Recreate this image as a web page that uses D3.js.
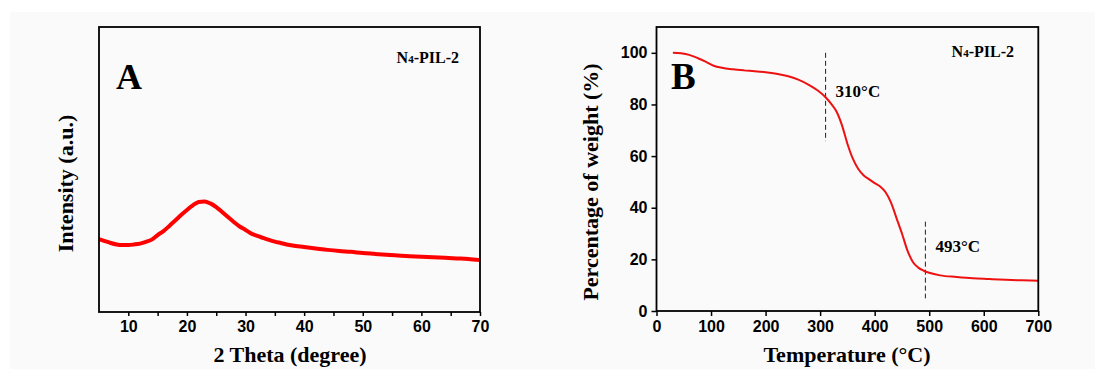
<!DOCTYPE html>
<html>
<head>
<meta charset="utf-8">
<script src="https://cdn.jsdelivr.net/npm/d3@7"></script>
<style>
  body { margin: 0; background: #fff; }
  svg { display: block; }
  .tick line { stroke: #000; stroke-width: 1.5; }
  .domain { display: none; }
  .serif { font-family: "Liberation Serif", "Times New Roman", serif; font-weight: bold; fill: #000; }
</style>
</head>
<body>
<div id="chart"></div>
<script>
// XRD pattern (panel A)
const xrdTheta = [5, 6, 7, 8, 9, 10, 11, 12, 13, 14, 15, 16, 17, 18, 19, 20, 21, 22, 23, 24, 25, 26, 27, 28, 29, 30,
  31, 32, 33, 34, 35, 36, 37, 38, 40, 42, 44, 46, 48, 50, 52, 54, 56, 58, 60, 62, 64, 66, 68, 70];
const xrdIntensity = [25.6, 24.9, 24.2, 23.7, 23.5, 23.5, 23.7, 24.0, 24.6, 25.4, 27.0, 28.4, 30.2, 32.1, 34.0, 35.8,
  37.4, 38.6, 38.8, 38.1, 36.8, 35.1, 33.3, 31.6, 30.0, 28.8, 27.5, 26.7, 26.0, 25.3, 24.7, 24.2, 23.7, 23.3,
  22.8, 22.3, 21.8, 21.4, 21.1, 20.7, 20.4, 20.1, 19.8, 19.6, 19.4, 19.2, 19.0, 18.8, 18.6, 18.2];
const xrdMajorTicks = [10, 20, 30, 40, 50, 60, 70];
const xrdMinorTicks = [15, 25, 35, 45, 55, 65];

// TGA curve (panel B)
const tgaTemp = [30, 45, 60, 75, 90, 105, 120, 140, 160, 180, 200, 220, 240, 260, 280, 295, 310, 320, 330, 340, 350,
  360, 370, 380, 390, 400, 410, 420, 430, 440, 450, 460, 470, 480, 490, 500, 520, 550, 580, 610, 640, 670, 700];
const tgaWeight = [100, 99.8, 99.2, 98.0, 96.6, 95.0, 94.2, 93.6, 93.2, 92.9, 92.5, 91.9, 91.0, 89.6, 87.5, 85.5,
  82.8, 80.3, 77.3, 72.0, 64.8, 59.0, 55.0, 52.5, 51.0, 49.5, 48.2, 46.0, 42.0, 36.0, 30.0, 23.5, 19.0, 16.8,
  15.6, 14.8, 13.8, 13.2, 12.7, 12.4, 12.1, 11.9, 11.7];
const tgaXTicks = [0, 100, 200, 300, 400, 500, 600, 700];
const tgaYTicks = [0, 20, 40, 60, 80, 100];

// onset markers
const markerTemp = [310, 493];
const markerTop = [100, 34.6];
const markerBottom = [65.8, 4.9];
const markerLabel = ['310°C', '493°C'];

const width = 1105, height = 369;

const svg = d3.select('#chart').append('svg')
  .attr('width', width)
  .attr('height', height);

svg.append('rect').attr('x', 10).attr('y', 12).attr('width', 1085).attr('height', 357).attr('fill', '#fafafa');

function styleTicks(g) {
  g.selectAll('.tick text')
    .style('font-family', '"Liberation Sans", Arial, sans-serif')
    .style('font-weight', 'bold')
    .style('font-size', '16px')
    .style('fill', '#000');
}

// ---------- Panel A ----------
const a = { left: 99, right: 480, top: 27, bottom: 312 };

const xA = d3.scaleLinear().domain([5, 70]).range([a.left, a.right]);
const yA = d3.scaleLinear().domain([0, 100]).range([a.bottom, a.top]);

svg.append('g')
  .attr('transform', `translate(0,${a.bottom})`)
  .call(d3.axisBottom(xA).tickValues(xrdMajorTicks).tickSize(4).tickPadding(5).tickSizeOuter(0))
  .call(styleTicks);

svg.append('g')
  .attr('transform', `translate(0,${a.bottom})`)
  .call(d3.axisBottom(xA).tickValues(xrdMinorTicks).tickSize(4).tickFormat('').tickSizeOuter(0));

svg.append('path')
  .datum(xrdTheta.map((t, i) => [t, xrdIntensity[i]]))
  .attr('fill', 'none')
  .attr('stroke', '#ff0000')
  .attr('stroke-width', 4)
  .attr('stroke-linejoin', 'round')
  .attr('d', d3.line().x(d => xA(d[0])).y(d => yA(d[1])).curve(d3.curveMonotoneX));

svg.append('rect')
  .attr('x', a.left).attr('y', a.top)
  .attr('width', a.right - a.left).attr('height', a.bottom - a.top)
  .attr('fill', 'none').attr('stroke', '#000').attr('stroke-width', 1.8);

svg.append('text').attr('class', 'serif')
  .attr('x', 116).attr('y', 89)
  .style('font-size', '36px')
  .text('A');

const nA = svg.append('text').attr('class', 'serif')
  .attr('x', 459).attr('y', 63)
  .style('font-size', '16px')
  .attr('text-anchor', 'end');
nA.append('tspan').text('N');
nA.append('tspan').style('font-size', '11px').text('4');
nA.append('tspan').text('-PIL-2');

svg.append('text').attr('class', 'serif')
  .attr('transform', `translate(73,${(a.top + a.bottom) / 2 + 14}) rotate(-90)`)
  .attr('text-anchor', 'middle')
  .style('font-size', '22px')
  .text('Intensity (a.u.)');

svg.append('text').attr('class', 'serif')
  .attr('x', 290).attr('y', 362)
  .attr('text-anchor', 'middle')
  .style('font-size', '22px')
  .text('2 Theta (degree)');

// ---------- Panel B ----------
const b = { left: 656.5, right: 1038.3, top: 27, bottom: 311 };

const xB = d3.scaleLinear().domain([0, 700]).range([b.left, b.right]);
const yB = d3.scaleLinear().domain([0, 110]).range([b.bottom, b.top]);

svg.append('g')
  .attr('transform', `translate(0,${b.bottom})`)
  .call(d3.axisBottom(xB).tickValues(tgaXTicks).tickSize(5).tickPadding(5).tickSizeOuter(0))
  .call(styleTicks);

svg.append('g')
  .attr('transform', `translate(${b.left},0)`)
  .call(d3.axisLeft(yB).tickValues(tgaYTicks).tickSize(5).tickPadding(4).tickSizeOuter(0))
  .call(styleTicks);

// dashed onset lines
markerTemp.forEach((t, i) => {
  svg.append('line')
    .attr('x1', xB(t)).attr('x2', xB(t))
    .attr('y1', yB(markerTop[i])).attr('y2', yB(markerBottom[i]))
    .attr('stroke', '#222').attr('stroke-width', 1)
    .attr('stroke-dasharray', '5,3');
  svg.append('text').attr('class', 'serif')
    .attr('x', xB(t) + 10).attr('y', i === 0 ? 97 : 252)
    .style('font-size', '17px')
    .text(markerLabel[i]);
});

svg.append('path')
  .datum(tgaTemp.map((t, i) => [t, tgaWeight[i]]))
  .attr('fill', 'none')
  .attr('stroke', '#ee1111')
  .attr('stroke-width', 2)
  .attr('d', d3.line().x(d => xB(d[0])).y(d => yB(d[1])).curve(d3.curveMonotoneX));

svg.append('rect')
  .attr('x', b.left).attr('y', b.top)
  .attr('width', b.right - b.left).attr('height', b.bottom - b.top)
  .attr('fill', 'none').attr('stroke', '#000').attr('stroke-width', 1.8);

svg.append('text').attr('class', 'serif')
  .attr('x', 671).attr('y', 89)
  .style('font-size', '37px')
  .text('B');

const nB = svg.append('text').attr('class', 'serif')
  .attr('x', 1014).attr('y', 57)
  .style('font-size', '16px')
  .attr('text-anchor', 'end');
nB.append('tspan').text('N');
nB.append('tspan').style('font-size', '11px').text('4');
nB.append('tspan').text('-PIL-2');

svg.append('text').attr('class', 'serif')
  .attr('transform', `translate(598,182) rotate(-90)`)
  .attr('text-anchor', 'middle')
  .style('font-size', '22px')
  .text('Percentage of weight (%)');

svg.append('text').attr('class', 'serif')
  .attr('x', 847).attr('y', 362)
  .attr('text-anchor', 'middle')
  .style('font-size', '22px')
  .text('Temperature (°C)');
</script>
</body>
</html>
